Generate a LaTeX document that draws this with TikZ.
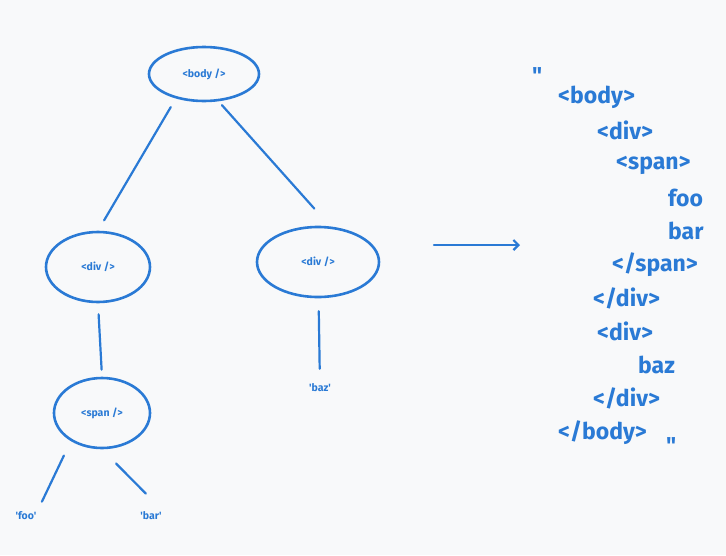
\documentclass[tikz,border=0pt]{standalone}
\usepackage{fontspec}
\setmainfont{Fira Sans}[Ligatures=TeXOff]
\usetikzlibrary{shapes.geometric, arrows.meta}
\definecolor{inkblue}{HTML}{2A7AD5}
\definecolor{paper}{HTML}{F8F9FA}
\tikzset{
  tag/.style={ellipse, draw=inkblue, line width=2.6pt, text=inkblue, font=\fontsize{10.5}{12}\selectfont\bfseries, inner sep=0pt},
  leaf/.style={text=inkblue, font=\fontsize{10.5}{12}\selectfont\bfseries, inner sep=1pt},
  wire/.style={draw=inkblue, line width=2.2pt, line cap=round},
  markup/.style={anchor=west, text=inkblue, inner sep=0pt, font=\fontsize{23}{26}\selectfont\bfseries}
}
\begin{document}
\begin{tikzpicture}[x=1pt,y=-1pt, >={Straight Barb[length=5pt,width=10pt]}]
	\fill[paper] (0,0) rectangle (726,555);
	\useasboundingbox (0,0) rectangle (726,555);
	% tree
	\node[tag, minimum width=110pt, minimum height=54pt] at (204, 74) (body) {<body />};
	\node[tag, minimum width=104pt, minimum height=70pt] at (98, 267) (divl) {<div />};
	\node[tag, minimum width=122pt, minimum height=70pt] at (318, 262) (divr) {<div />};
	\node[tag, minimum width=96pt, minimum height=70pt] at (102, 413) (span) {<span />};
	\node[leaf] at (26, 516) (foo) {'foo'};
	\node[leaf] at (151, 516) (bar) {'bar'};
	\node[leaf] at (320, 388) (baz) {'baz'};
	\draw[wire, shorten <=10pt, shorten >=12pt] (body.221) -- (divl.north);
	\draw[wire, shorten <=5pt, shorten >=24pt] (body.298) -- (divr.71);
	\draw[wire, shorten <=11pt, shorten >=7pt] (divl.south) -- (span.north);
	\draw[wire, shorten <=13pt, shorten >=14pt] (divr) -- (baz);
	\draw[wire, shorten <=16pt, shorten >=10pt] (span.222) -- (foo.north east);
	\draw[wire, shorten <=20pt, shorten >=24pt] (span.south) -- (bar.north east);
	% arrow
	\coordinate (from) at (434, 245);
	\coordinate (to) at (520, 245);
	\draw[wire, ->] (from) -- (to);
	% serialised html
	\node[markup] at (532, 76) (q1) {"};
	\node[markup] at (558, 97) (l1) {<body>};
	\node[markup] at (597, 130) (l2) {<div>};
	\node[markup] at (616, 165) (l3) {<span>};
	\node[markup] at (668, 198) (l4) {foo};
	\node[markup] at (668, 231) (l5) {bar};
	\node[markup] at (612, 265) (l6) {</span>};
	\node[markup] at (593, 298) (l7) {</div>};
	\node[markup] at (597, 331) (l8) {<div>};
	\node[markup] at (638, 365) (l9) {baz};
	\node[markup] at (593, 398) (l10) {</div>};
	\node[markup] at (558, 433) (l11) {</body>};
	\node[markup] at (666, 446) (q2) {"};
\end{tikzpicture}
\end{document}
